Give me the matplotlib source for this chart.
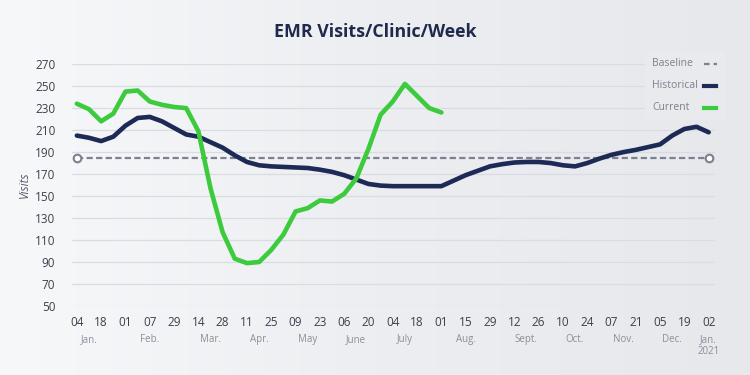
import numpy as np
import matplotlib
matplotlib.use("Agg")
import matplotlib.pyplot as plt
from matplotlib.lines import Line2D
from matplotlib.patches import Rectangle
from matplotlib.colors import LinearSegmentedColormap

# ---------------- data ----------------
tick_labels = ["04", "18", "01", "07", "29", "14", "28", "11", "25", "09", "23", "06", "20",
               "04", "18", "01", "15", "29", "12", "26", "10", "24", "07", "21", "05", "19", "02"]
month_labels = ["Jan.", "Feb.", "Mar.", "Apr.", "May", "June", "July", "Aug.", "Sept.",
                "Oct.", "Nov.", "Dec.", "Jan.\n2021"]
month_pos = [0.5, 3, 5.5, 7.5, 9.5, 11.5, 13.5, 16, 18.5, 20.5, 22.5, 24.5, 26]

baseline = 185
historical = [205, 203, 200, 204, 214, 221, 222, 218, 212, 206, 204, 199, 194, 187, 181, 178,
              177, 176.5, 176, 175.5, 174, 172, 169, 165, 161, 159.5, 159, 159, 159, 159, 159,
              164, 169, 173, 177, 179, 180.5, 181, 181, 180, 178, 177, 180, 184, 187.5, 190,
              192, 194.5, 197, 205, 211, 213, 208]
current = [234, 229, 218, 225, 245, 246, 236, 233, 231, 230, 209, 157, 117, 93, 89, 90,
           101, 115, 136, 139, 146, 145, 152, 166, 193, 224, 236, 252, 241, 230, 226]
yticks = list(range(50, 271, 20))

# ---------------- style ----------------
FONT = "Open Sans"
NAVY = "#1c2a55"
GREEN = "#3ccb3c"
GRID = "#d9dce2"
DASH = "#7c8190"
TICK = "#3b404c"
MUTED = "#8a8f99"

fig = plt.figure(figsize=(7.5, 3.75), dpi=100)

# background gradient
bg = fig.add_axes([0, 0, 1, 1], zorder=-10)
grad = np.linspace(0, 1, 256).reshape(1, -1)
cmap = LinearSegmentedColormap.from_list("bg", ["#f7f8fa", "#eceef1", "#e6e8ec"])
bg.imshow(grad, aspect="auto", cmap=cmap, extent=[0, 1, 0, 1])
bg.set_axis_off()

ax = fig.add_axes([0.096, 0.184, 0.857, 0.645])
ax.set_facecolor("none")

xh = np.arange(len(historical)) * 0.5
xc = np.arange(len(current)) * 0.5
ax.plot(xh, historical, color=NAVY, lw=3.3, solid_joinstyle="round", solid_capstyle="round", zorder=4)
ax.plot(xc, current, color=GREEN, lw=3.3, solid_joinstyle="round", solid_capstyle="round", zorder=5)
ax.plot([0, len(tick_labels) - 1], [baseline, baseline], color=DASH, lw=1.6,
        dashes=(2.8, 1.5), zorder=3)
ax.plot([0, len(tick_labels) - 1], [baseline, baseline], ls="none", marker="o", ms=5.5,
        mfc="white", mec=DASH, mew=1.5, zorder=6, clip_on=False)

ax.set_xlim(-0.2, 26.25)
ax.set_ylim(50, 270)
ax.set_yticks(yticks)
ax.set_yticklabels([str(v) for v in yticks], fontfamily=FONT, fontsize=8.5, color=TICK)
ax.set_xticks(range(len(tick_labels)))
ax.set_xticklabels(tick_labels, fontfamily=FONT, fontsize=8.5, color=TICK)
ax.tick_params(axis="both", length=0)
ax.tick_params(axis="y", pad=12)
ax.tick_params(axis="x", pad=7)
ax.grid(axis="y", color=GRID, lw=0.9)
ax.set_axisbelow(True)
for s in ax.spines.values():
    s.set_visible(False)

ax.set_ylabel("Visits", fontfamily=FONT, fontsize=8.5, style="italic", color="#555a66", labelpad=3)

for lab, p in zip(month_labels, month_pos):
    ax.text(p, -0.115, lab, transform=ax.get_xaxis_transform(), ha="center", va="top",
            fontfamily=FONT, fontsize=7, color=MUTED, linespacing=1.15)

fig.text(0.5, 0.915, "EMR Visits/Clinic/Week", ha="center", va="center",
         fontfamily="Open Sans", fontweight="bold", fontsize=12.8, color="#1f2a4c")

# legend (manual)
fig.patches.append(Rectangle((645 / 750, 1 - 120 / 375), 80 / 750, 68 / 375,
                             transform=fig.transFigure, facecolor="#e8eaee", edgecolor="none",
                             zorder=1))
leg_items = [("Baseline", 64, "dash"), ("Historical", 86, NAVY), ("Current", 108, GREEN)]
for name, py, c in leg_items:
    yf = 1 - py / 375
    fig.text(652 / 750, yf, name, ha="left", va="center", fontfamily=FONT, fontsize=7.5,
             color="#7b808b", zorder=2)
    if c == "dash":
        ln = Line2D([704 / 750, 717 / 750], [yf, yf], transform=fig.transFigure, color=DASH,
                    lw=1.6, dashes=(2.5, 1.8), zorder=2)
    else:
        ln = Line2D([704 / 750, 716 / 750], [yf, yf], transform=fig.transFigure, color=c,
                    lw=3.0, zorder=2)
    fig.lines.append(ln)

fig.savefig("out.png", dpi=100)
